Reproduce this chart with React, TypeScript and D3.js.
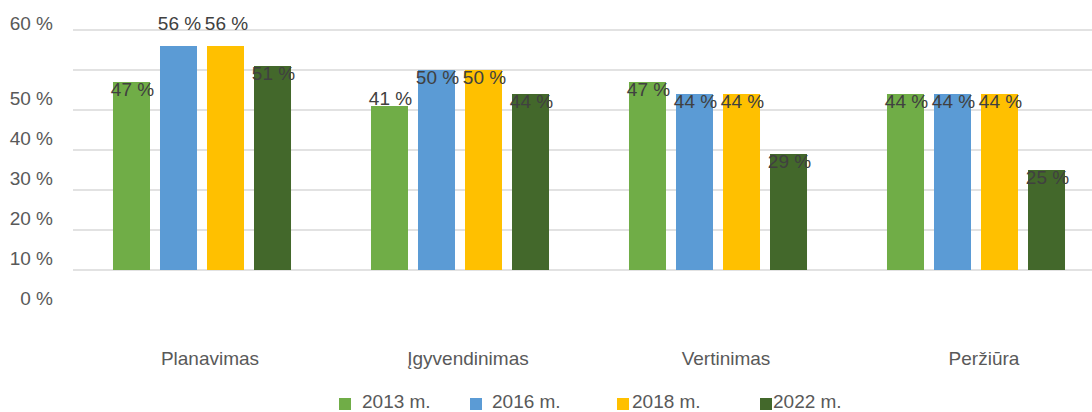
import React from "react";
import * as d3 from "d3";

const categories = ["Planavimas", "Įgyvendinimas", "Vertinimas", "Peržiūra"];
const seriesNames = ["2013 m.", "2016 m.", "2018 m.", "2022 m."];
const values2013 = [47, 41, 47, 44];
const values2016 = [56, 50, 44, 44];
const values2018 = [56, 50, 44, 44];
const values2022 = [51, 44, 29, 25];
const yTicks = [0, 10, 20, 30, 40, 50, 60];

const seriesValues = [values2013, values2016, values2018, values2022];
const colors = ["#70AD47", "#5B9BD5", "#FFC000", "#43682B"];

const W = 1092;
const H = 412;
const FONT = "'Liberation Sans', Arial, sans-serif";

// label baseline offsets relative to bar top (style)
const labelOverrides: Record<string, number> = {
  "0|1": -16,
  "0|2": -16,
  "1|0": -1.5,
};
// tick label baseline offsets (style, reproduces reference placement)
const tickDy = (v: number) => (v === 60 ? -0.5 : 35);
// legend layout (style)
const legendSquareX = [339, 470, 617, 760];
const legendTextX = [362, 492, 632, 773];

export default function App() {
  const y = d3.scaleLinear().domain([0, 60]).range([270, 30]);
  const x0 = d3
    .scaleBand<string>()
    .domain(categories)
    .range([73, 1105])
    .paddingInner(0.31)
    .paddingOuter(0.155);
  const x1 = d3
    .scaleBand<string>()
    .domain(seriesNames)
    .range([0, x0.bandwidth()])
    .paddingInner(10 / 47);

  return (
    <svg
      width={W}
      height={H}
      style={{ position: "absolute", left: 0, top: 0, background: "#fff" }}
      fontFamily={FONT}
    >
      {yTicks.map((t) => (
        <line
          key={"g" + t}
          x1={73}
          x2={W}
          y1={y(t)}
          y2={y(t)}
          stroke="#D9D9D9"
          strokeWidth={1.5}
        />
      ))}
      {yTicks.map((t) => (
        <text
          key={"t" + t}
          x={53}
          y={y(t) + tickDy(t)}
          textAnchor="end"
          fontSize={19}
          fill="#595959"
        >
          {t} %
        </text>
      ))}
      {categories.map((c, ci) => (
        <g key={c} transform={`translate(${x0(c)},0)`}>
          {seriesNames.map((s, si) => {
            const v = seriesValues[si][ci];
            const bx = x1(s)!;
            return (
              <rect
                key={s}
                x={bx}
                y={y(v)}
                width={x1.bandwidth()}
                height={y(0) - y(v)}
                fill={colors[si]}
              />
            );
          })}
          {seriesNames.map((s, si) => {
            const v = seriesValues[si][ci];
            const bx = x1(s)!;
            const off = labelOverrides[`${ci}|${si}`] ?? 13.5;
            return (
              <text
                key={"l" + s}
                x={bx + x1.bandwidth() / 2 + 1}
                y={y(v) + off}
                textAnchor="middle"
                fontSize={19}
                fill="#404040"
              >
                {v} %
              </text>
            );
          })}
          <text
            x={x0.bandwidth() / 2 + 8}
            y={365}
            textAnchor="middle"
            fontSize={19}
            fill="#595959"
          >
            {c}
          </text>
        </g>
      ))}
      {seriesNames.map((s, si) => (
        <g key={"lg" + s}>
          <rect x={legendSquareX[si]} y={398} width={12} height={12} fill={colors[si]} />
          <text x={legendTextX[si]} y={408} fontSize={19} fill="#595959">
            {s}
          </text>
        </g>
      ))}
    </svg>
  );
}
